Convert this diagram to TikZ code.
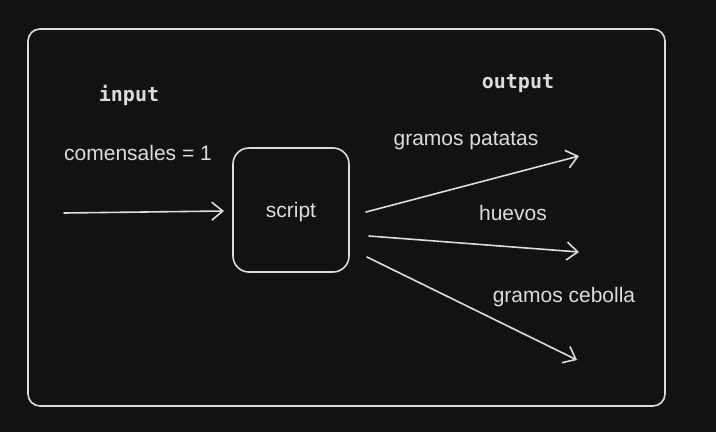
\documentclass[tikz,border=0pt]{standalone}
\usepackage{fontspec}
\setmainfont{Liberation Sans}
\newfontfamily\codefont{DejaVu Sans Mono}
\usetikzlibrary{arrows.meta}
\definecolor{bgdark}{HTML}{121212}
\definecolor{inkgray}{HTML}{DCDCDC}
\begin{document}
\begin{tikzpicture}[x=1pt,y=-1pt,line cap=round,
    >={Straight Barb[length=11pt,width=18pt,line width=1.6pt]}]
    \tikzstyle{frame}=[draw=inkgray,line width=1.6pt,rounded corners=12pt]
    \tikzstyle{label}=[text=inkgray,font=\fontsize{21}{24}\selectfont,inner sep=0pt,text depth=0pt]
    \tikzstyle{header}=[text=inkgray,font=\codefont\bfseries\fontsize{20}{24}\selectfont,inner sep=0pt,text depth=0pt]
    \tikzstyle{flow}=[draw=inkgray,line width=1.6pt,->]
    \fill[bgdark] (0,0) rectangle (716,432);
    \useasboundingbox (0,0) rectangle (716,432);

    \draw[frame] (28,29) rectangle (665,406);
    \node[frame,rounded corners=16pt,minimum width=116pt,minimum height=124pt,label] (script) at (291,210) {script};

    \node[header] (input) at (129,93) {input};
    \node[header] (output) at (518,81) {output};
    \node[label] (diners) at (138,153) {comensales = 1};

    \coordinate (in-0) at (64,213);
    \coordinate (in-1) at (224,211);
    \draw[flow] (in-0) -- (in-1);

    \foreach \name/\sx/\sy/\ex/\ey/\lx/\ly/\txt in {
        potato/366/212/579/156/466/139/gramos patatas,
        egg/369/236/579/252/513/213/huevos,
        onion/367/257/577/360/564/295/gramos cebolla}
    {
        \coordinate (\name-start) at (\sx,\sy);
        \coordinate (\name-end) at (\ex,\ey);
        \node[label] (\name) at (\lx,\ly) {\txt};
        \draw[flow] (\name-start) -- (\name-end);
    }
\end{tikzpicture}
\end{document}
